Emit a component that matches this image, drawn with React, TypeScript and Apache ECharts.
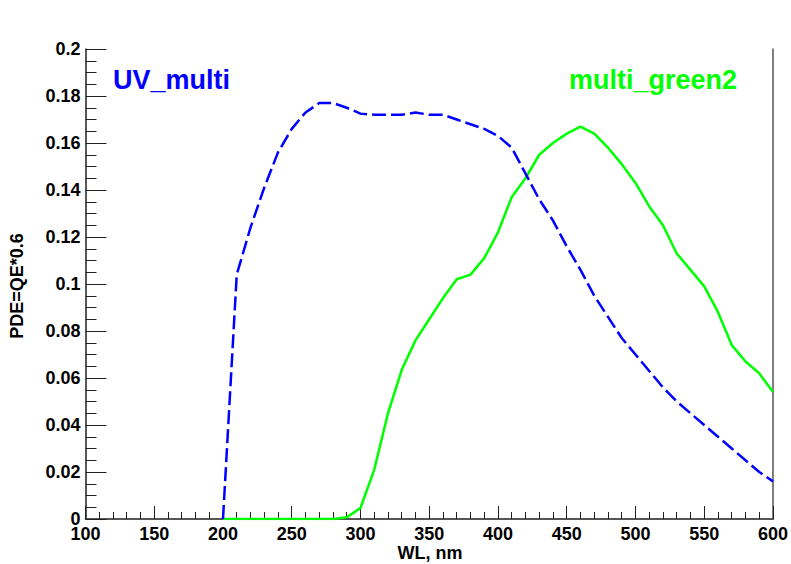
import React, { useEffect, useRef } from "react";
import * as echarts from "echarts";

// Wavelength grid (nm)
const wavelengths = [
  200, 210, 220, 230, 240, 250, 260, 270, 280, 290, 300, 310, 320, 330, 340, 350,
  360, 370, 380, 390, 400, 410, 420, 430, 440, 450, 460, 470, 480, 490, 500, 510,
  520, 530, 540, 550, 560, 570, 580, 590, 600,
];

// PDE of the UV-sensitive device
const uvMulti = [
  0, 0.104, 0.124, 0.141, 0.156, 0.166, 0.173, 0.177, 0.177, 0.175, 0.1725, 0.172,
  0.172, 0.172, 0.173, 0.172, 0.172, 0.170, 0.168, 0.166, 0.163, 0.158, 0.147,
  0.136, 0.127, 0.116, 0.106, 0.095, 0.086, 0.077, 0.070, 0.063, 0.056, 0.050,
  0.045, 0.040, 0.035, 0.030, 0.025, 0.020, 0.016,
];

// PDE of the green-sensitive device
const multiGreen2 = [
  0, 0, 0, 0, 0, 0, 0, 0, 0, 0.0007, 0.0047, 0.021, 0.045, 0.0635, 0.076, 0.085,
  0.094, 0.102, 0.104, 0.111, 0.122, 0.137, 0.145, 0.155, 0.160, 0.164, 0.167,
  0.164, 0.158, 0.151, 0.143, 0.133, 0.125, 0.113, 0.106, 0.099, 0.088, 0.074,
  0.067, 0.062, 0.054,
];

const seriesNames = ["UV_multi", "multi_green2"];
const xTitle = "WL, nm";
const yTitle = "PDE=QE*0.6";

const FONT = "'Liberation Sans', Arial, Helvetica, sans-serif";
const AXIS_COLOR = "#222";
const FRAME_COLOR = "#555";

export default function App() {
  const ref = useRef<HTMLDivElement>(null);

  useEffect(() => {
    if (!ref.current) return;
    const chart = echarts.init(ref.current, null, { renderer: "svg" });

    const toPairs = (ys: number[]) => wavelengths.map((x, i) => [x, ys[i]]);

    const labelStyle = {
      fontFamily: FONT,
      fontWeight: "bold" as const,
      fontSize: 18,
      color: "#000",
    };

    chart.setOption({
      animation: false,
      backgroundColor: "#fff",
      grid: { left: 85.5, right: 14, top: 49, bottom: 45, containLabel: false },
      xAxis: [
        {
          type: "value",
          min: 100,
          max: 600,
          interval: 50,
          axisLine: { show: true, lineStyle: { color: AXIS_COLOR, width: 1.5 } },
          axisTick: { show: true, inside: true, length: 13, lineStyle: { color: AXIS_COLOR } },
          minorTick: { show: true, splitNumber: 5, length: 7, lineStyle: { color: AXIS_COLOR } },
          splitLine: { show: false },
          axisLabel: { ...labelStyle, margin: 6 },
        },
        {
          type: "value",
          position: "top",
          min: 100,
          max: 600,
          axisLine: { show: true, lineStyle: { color: FRAME_COLOR, width: 1.5 } },
          axisTick: { show: false },
          axisLabel: { show: false },
          splitLine: { show: false },
        },
      ],
      yAxis: [
        {
          type: "value",
          min: 0,
          max: 0.2,
          interval: 0.02,
          axisLine: { show: true, lineStyle: { color: AXIS_COLOR, width: 1.5 } },
          axisTick: { show: true, inside: true, length: 21, lineStyle: { color: AXIS_COLOR } },
          minorTick: { show: true, splitNumber: 4, length: 11, lineStyle: { color: AXIS_COLOR } },
          splitLine: { show: false },
          axisLabel: {
            ...labelStyle,
            margin: 5,
            formatter: (v: number) => String(parseFloat(v.toFixed(2))),
          },
        },
        {
          type: "value",
          position: "right",
          min: 0,
          max: 0.2,
          axisLine: { show: true, lineStyle: { color: FRAME_COLOR, width: 1.5 } },
          axisTick: { show: false },
          axisLabel: { show: false },
          splitLine: { show: false },
        },
      ],
      series: [
        {
          name: seriesNames[0],
          type: "line",
          data: toPairs(uvMulti),
          showSymbol: false,
          symbol: "none",
          lineStyle: { color: "#0000ff", width: 2.5, type: [14, 5] },
          z: 3,
        },
        {
          name: seriesNames[1],
          type: "line",
          data: toPairs(multiGreen2),
          showSymbol: false,
          symbol: "none",
          lineStyle: { color: "#00ff00", width: 2.5 },
          z: 2,
        },
      ],
      graphic: [
        {
          type: "text",
          x: 113,
          y: 93,
          style: {
            text: seriesNames[0],
            fill: "#0000ff",
            font: `bold 27px ${FONT}`,
            textAlign: "left",
            textVerticalAlign: "bottom",
          },
        },
        {
          type: "text",
          x: 569,
          y: 93,
          style: {
            text: seriesNames[1],
            fill: "#00ff00",
            font: `bold 27px ${FONT}`,
            textAlign: "left",
            textVerticalAlign: "bottom",
          },
        },
        {
          type: "text",
          x: 430,
          y: 553,
          style: {
            text: xTitle,
            fill: "#000",
            font: `bold 18px ${FONT}`,
            textAlign: "center",
            textVerticalAlign: "middle",
          },
        },
        {
          type: "text",
          x: 17,
          y: 286,
          rotation: Math.PI / 2,
          style: {
            text: yTitle,
            fill: "#000",
            font: `bold 18px ${FONT}`,
            textAlign: "center",
            textVerticalAlign: "middle",
          },
        },
      ],
    });

    return () => chart.dispose();
  }, []);

  return (
    <div
      ref={ref}
      style={{ position: "fixed", left: 0, top: 0, width: 791, height: 564, background: "#fff" }}
    />
  );
}
